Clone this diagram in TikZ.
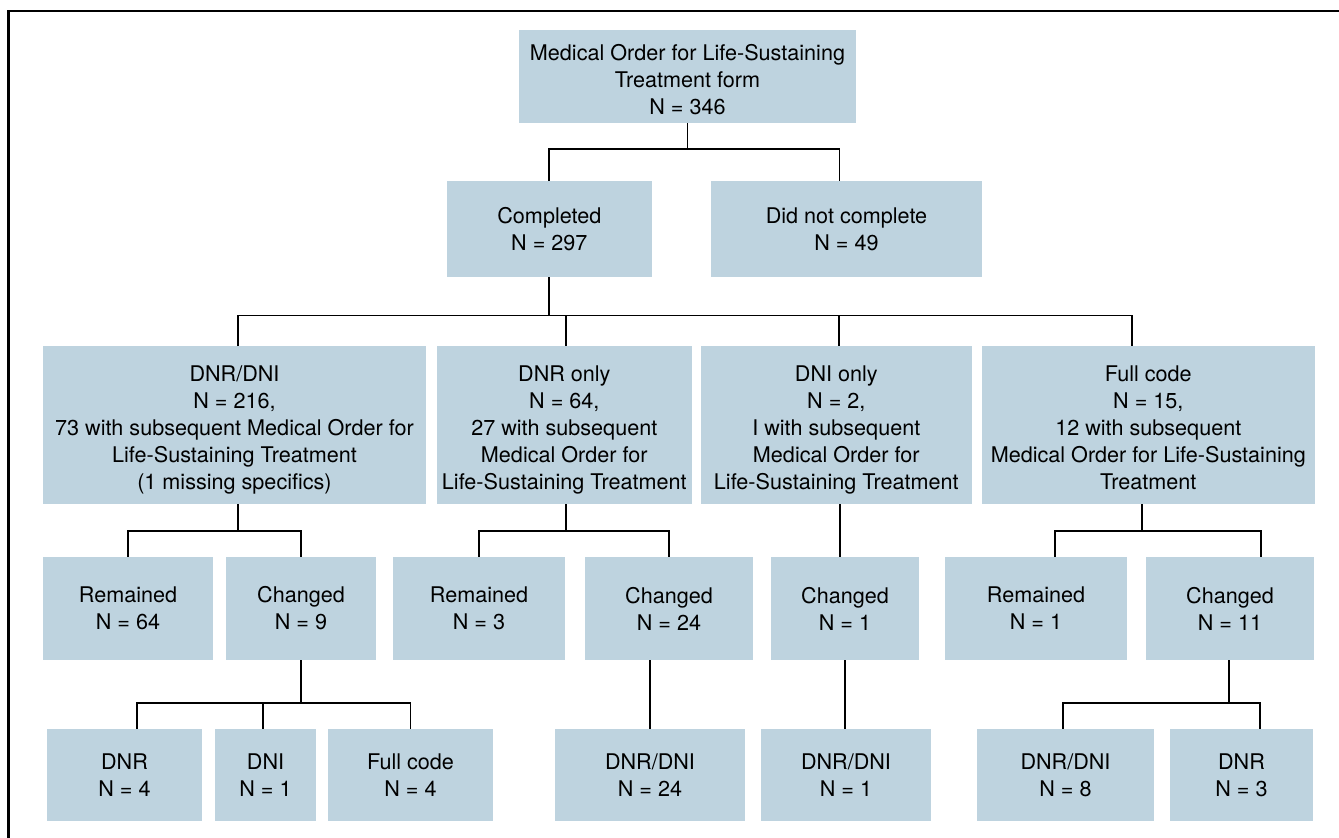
\documentclass[tikz,border=0pt]{standalone}
\usepackage{fontspec}
\setmainfont{TeX Gyre Heros}
\definecolor{boxblue}{RGB}{190,211,223}
\begin{document}
\begin{tikzpicture}[x=1pt,y=-1pt,
  bx/.style={fill=boxblue,draw=none,inner sep=0pt,align=center,
    font=\fontsize{21.6}{27.0}\selectfont,text=black},
  ln/.style={line width=1.9pt,draw=black}]
\useasboundingbox (0,0) rectangle (1339,838);
\begin{scope}
\clip (0,0) rectangle (1339,838);
\draw[line width=2.4pt] (8.5,11) rectangle (1360,860);
\end{scope}
% level 1-2
\node[bx,text height=76pt,minimum width=337,minimum height=93] (top) at (687.5,76.5) {Medical Order for Life-Sustaining\\Treatment form\\N = 346};
\node[bx,minimum width=205,minimum height=96] (comp) at (549.3,228.8) {Completed\\N = 297};
\node[bx,minimum width=271,minimum height=96] (notc) at (846.5,228.8) {Did not complete\\N = 49};
% level 3
\node[bx,text height=129pt,text depth=0pt,minimum width=383,minimum height=158] (l3a) at (234.5,425.2) {DNR/DNI\\N = 216,\\73 with subsequent Medical Order for\\Life-Sustaining Treatment\\(1 missing specifics)};
\node[bx,text height=129pt,text depth=0pt,minimum width=255,minimum height=158] (l3b) at (564.3,425.2) {DNR only\\N = 64,\\27 with subsequent\\Medical Order for\\Life-Sustaining Treatment};
\node[bx,text height=129pt,text depth=0pt,minimum width=271,minimum height=158] (l3c) at (836.3,425.2) {DNI only\\N = 2,\\I with subsequent\\Medical Order for\\Life-Sustaining Treatment};
\node[bx,text height=129pt,text depth=0pt,minimum width=333,minimum height=158] (l3d) at (1148.3,425.2) {Full code\\N = 15,\\12 with subsequent\\Medical Order for Life-Sustaining\\Treatment};
% level 4
\node[bx,minimum width=170,minimum height=103] (r64) at (128,608.5) {Remained\\N = 64};
\node[bx,minimum width=150,minimum height=103] (c9) at (301,608.5) {Changed\\N = 9};
\node[bx,minimum width=172,minimum height=103] (r3) at (479,608.5) {Remained\\N = 3};
\node[bx,minimum width=168,minimum height=103] (c24) at (669,608.5) {Changed\\N = 24};
\node[bx,minimum width=148,minimum height=103] (c1) at (845,608.5) {Changed\\N = 1};
\node[bx,minimum width=182,minimum height=103] (r1) at (1036,608.5) {Remained\\N = 1};
\node[bx,minimum width=168,minimum height=103] (c11) at (1230,608.5) {Changed\\N = 11};
% level 5
\node[bx,minimum width=155,minimum height=92] (dnr4) at (124.5,775) {DNR\\N = 4};
\node[bx,minimum width=101,minimum height=92] (dni1) at (265.5,775) {DNI\\N = 1};
\node[bx,minimum width=165,minimum height=92] (fc4) at (410.5,775) {Full code\\N = 4};
\node[bx,minimum width=190,minimum height=92] (dd24) at (650,775) {DNR/DNI\\N = 24};
\node[bx,minimum width=170,minimum height=92] (dd1) at (846,775) {DNR/DNI\\N = 1};
\node[bx,minimum width=177,minimum height=92] (dd8) at (1065.5,775) {DNR/DNI\\N = 8};
\node[bx,minimum width=143,minimum height=92] (dnr3) at (1241.5,775) {DNR\\N = 3};
% anchor points of connectors
\coordinate (l3bt) at ([xshift=1.5]l3b.north);
\coordinate (l3ct) at ([xshift=3]l3c.north);
\coordinate (dni1t) at ([xshift=-2.5]dni1.north);
% connectors
\draw[ln] (top.south) -- ++(0,25.5) coordinate (j1);
\draw[ln] (comp.north) |- (j1) -| ([xshift=-7]notc.north);
\draw[ln] (comp.south) -- ++(0,38.5) coordinate (j2);
\draw[ln] ([xshift=3.5]l3a.north) |- (j2) -| ([xshift=-16]l3d.north);
\draw[ln] (j2 -| l3bt) -- (l3bt);
\draw[ln] (j2 -| l3ct) -- (l3ct);
% level 3 to 4
\draw[ln] ([xshift=3.5]l3a.south) -- ++(0,26.5) coordinate (j3);
\draw[ln] (r64.north) |- (j3) -| (c9.north);
\draw[ln] ([xshift=1.5]l3b.south) -- ++(0,26.5) coordinate (j4);
\draw[ln] (r3.north) |- (j4) -| (c24.north);
\draw[ln] ([xshift=3.5]l3c.south) -- ([xshift=-5.2]c1.north);
\draw[ln] ([xshift=-6.5]l3d.south) -- ++(0,26.5) coordinate (j5);
\draw[ln] ([xshift=19]r1.north) |- (j5) -| ([xshift=31]c11.north);
% level 4 to 5
\draw[ln] (c9.south) -- ++(0,43) coordinate (j6);
\draw[ln] ([xshift=12.5]dnr4.north) |- (j6) -| (fc4.north);
\draw[ln] (dni1t) -- (j6 -| dni1t);
\draw[ln] ([xshift=-19]c24.south) -- (dd24.north);
\draw[ln] (c1.south) -- ([xshift=-1]dd1.north);
\draw[ln] ([xshift=-1]c11.south) -- ++(0,43) coordinate (j7);
\draw[ln] ([xshift=-2.5]dd8.north) |- (j7) -| ([xshift=18.5]dnr3.north);
\end{tikzpicture}
\end{document}
